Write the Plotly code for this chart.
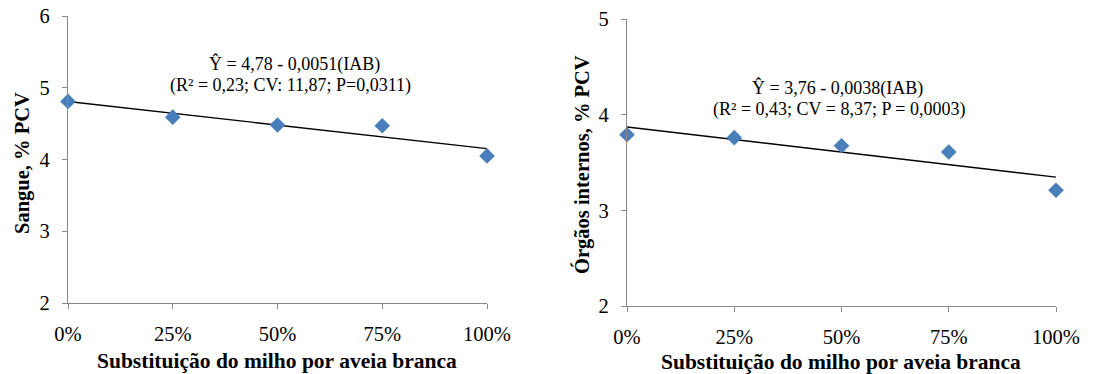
import numpy as np
import plotly.graph_objects as go

x_vals = [0, 25, 50, 75, 100]
x_labels = ["0%", "25%", "50%", "75%", "100%"]
sangue = [4.81, 4.59, 4.48, 4.47, 4.05]
orgaos = [3.79, 3.76, 3.675, 3.61, 3.21]

W, H = 1116, 374
SERIF = "Liberation Serif"
AXC = "#898989"
BLUE = "#4A7EBB"

def px(x):
    return x / W

def py(y):
    return 1 - y / H

fig = go.Figure()

for i, (vals, ax) in enumerate([(sangue, ""), (orgaos, "2")]):
    xa = "x" + ax
    ya = "y" + ax
    slope, icpt = np.polyfit(x_vals, vals, 1)
    fit = [icpt + slope * v for v in [0, 100]]
    fig.add_trace(go.Scatter(x=[0, 100], y=fit, mode="lines",
                             line=dict(color="black", width=1.4),
                             xaxis=xa, yaxis=ya, showlegend=False, cliponaxis=False))
    fig.add_trace(go.Scatter(x=x_vals, y=vals, mode="markers",
                             marker=dict(symbol="diamond", size=12, color=BLUE),
                             xaxis=xa, yaxis=ya, showlegend=False, cliponaxis=False))

axis_common = dict(showgrid=False, zeroline=False, showline=True, linecolor=AXC,
                   linewidth=1.3, ticks="outside", tickcolor=AXC, ticklen=5,
                   automargin=False,
                   tickfont=dict(family=SERIF, size=20.5, color="black"))

fig.update_layout(
    width=W, height=H,
    margin=dict(l=0, r=0, t=0, b=0, autoexpand=False),
    paper_bgcolor="white", plot_bgcolor="white",
    font=dict(family=SERIF),
    xaxis=dict(domain=[px(68), px(487)], range=[0, 100], tickvals=x_vals,
               ticktext=x_labels, anchor="y", ticklabelstandoff=7, **axis_common),
    yaxis=dict(domain=[py(303), py(16)], range=[2, 6], dtick=1, anchor="x",
               ticklabelstandoff=8, **axis_common),
    xaxis2=dict(domain=[px(627), px(1056)], range=[0, 100], tickvals=x_vals,
                ticktext=x_labels, anchor="y2", ticklabelstandoff=7, **axis_common),
    yaxis2=dict(domain=[py(306), py(19)], range=[2, 5], dtick=1, anchor="x2",
                ticklabelstandoff=8, **axis_common),
)

eq_font = dict(family=SERIF, size=18, color="black")
annots = [
    dict(x=px(294), y=py(64), text="Ŷ = 4,78 - 0,0051(IAB)", font=eq_font),
    dict(x=px(290), y=py(85), text="(R² = 0,23; CV: 11,87; P=0,0311)", font=eq_font),
    dict(x=px(837), y=py(88), text="Ŷ = 3,76 - 0,0038(IAB)", font=eq_font),
    dict(x=px(839), y=py(109), text="(R² = 0,43; CV = 8,37; P = 0,0003)", font=eq_font),
    dict(x=px(277), y=py(361), text="<b>Substituição do milho por aveia branca</b>",
         font=dict(family=SERIF, size=21.5, color="black")),
    dict(x=px(841), y=py(362), text="<b>Substituição do milho por aveia branca</b>",
         font=dict(family=SERIF, size=21.5, color="black")),
    dict(x=px(22), y=py(163), text="<b>Sangue, % PCV</b>", textangle=-90,
         font=dict(family=SERIF, size=20.5, color="black")),
    dict(x=px(582), y=py(165), text="<b>Órgãos internos, % PCV</b>", textangle=-90,
         font=dict(family=SERIF, size=20.5, color="black")),
]
for a in annots:
    fig.add_annotation(xref="paper", yref="paper", showarrow=False,
                       xanchor="center", yanchor="middle", **a)

fig.write_html("out.html", config={"displayModeBar": False},
               post_script="document.body.style.margin='0';document.body.style.overflow='hidden';")
